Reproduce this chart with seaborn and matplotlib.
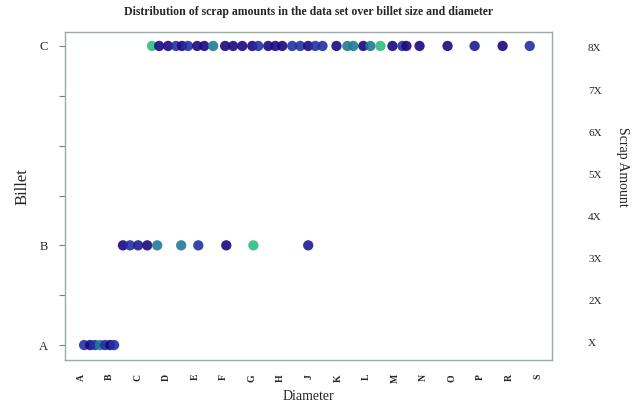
import numpy as np
import pandas as pd
import seaborn as sns
import matplotlib.pyplot as plt
from matplotlib.colors import LinearSegmentedColormap

# Diameter positions (tick index units), billet level and scrap amount per point
billet_a_diam = [0.11, 0.32, 0.49, 0.67, 0.84, 1.02, 1.16]
billet_a_scrap = [3, 1, 3, 5, 3, 1, 3]

billet_b_diam = [1.47, 1.72, 2.00, 2.32, 2.67, 3.51, 4.11, 5.09, 6.04, 7.96]
billet_b_scrap = [1, 3, 2, 1, 5, 5, 3, 1, 7, 2]

billet_c_diam = [2.49, 2.74, 3.05, 3.33, 3.54, 3.75, 4.07, 4.32, 4.63, 5.05,
                 5.33, 5.65, 6.00, 6.21, 6.56, 6.81, 7.05, 7.40, 7.68, 7.96,
                 8.21, 8.46, 8.95, 9.33, 9.54, 9.89, 10.14, 10.49, 10.91, 11.26,
                 11.40, 11.86, 12.84, 13.79, 14.77, 15.72]
billet_c_scrap = [7, 1, 1, 3, 1, 3, 1, 1, 5, 1,
                  1, 1, 1, 3, 1, 1, 1, 3, 3, 1,
                  3, 3, 1, 5, 5, 1, 5, 7, 1, 3,
                  1, 1, 1, 2, 1, 3]

billet_levels = {'A': 0, 'B': 2, 'C': 6}
diameter_labels = ['A', 'B', 'C', 'D', 'E', 'F', 'G', 'H', 'J', 'K',
                   'L', 'M', 'N', 'O', 'P', 'R', 'S']
scrap_labels = ['X', '2X', '3X', '4X', '5X', '6X', '7X', '8X']

df = pd.concat([
    pd.DataFrame({'diameter': billet_a_diam, 'billet': billet_levels['A'], 'scrap': billet_a_scrap}),
    pd.DataFrame({'diameter': billet_b_diam, 'billet': billet_levels['B'], 'scrap': billet_b_scrap}),
    pd.DataFrame({'diameter': billet_c_diam, 'billet': billet_levels['C'], 'scrap': billet_c_scrap}),
])

sns.set_theme(style='white')
plt.rcParams['font.family'] = ['Liberation Serif', 'DejaVu Serif']

cmap = LinearSegmentedColormap.from_list(
    'scrap', ['#1c0880', '#2438a8', '#1f958c', '#3ad87a'])

fig = plt.figure(figsize=(6.4, 4.09), dpi=100)
ax = fig.add_axes([65 / 640, 1 - 360 / 409, (552 - 65) / 640, (360 - 32) / 409])

sns.scatterplot(data=df, x='diameter', y='billet', hue='scrap', palette=cmap,
                hue_norm=(1, 8), s=55, alpha=0.9, linewidth=0, legend=False, ax=ax)

ax.set_xlim(-0.56, 16.5)
ax.set_ylim(-0.3, 6.28)

ax.set_xticks(range(len(diameter_labels)))
ax.set_xticklabels(diameter_labels, rotation=90, fontsize=7, fontweight='bold')
ax.set_yticks(range(7))
ax.set_yticklabels(['A', '', 'B', '', '', '', 'C'], fontsize=9)
ax.tick_params(axis='y', left=True, length=4, width=0.8, color='#6f7f7a', pad=8)
ax.tick_params(axis='x', bottom=False, pad=4)

for sp in ax.spines.values():
    sp.set_color('#9aaba6')
    sp.set_linewidth(1.0)

ax.set_xlabel('Diameter', fontsize=10, labelpad=5)
ax.set_ylabel('Billet', fontsize=12)
ax.yaxis.set_label_coords(-0.07, 0.53)
ax.set_title('Distribution of scrap amounts in the data set over billet size and diameter',
             fontsize=8.5, fontweight='bold', pad=12)

# right-hand scrap scale
ax2 = ax.twinx()
ax2.set_ylim(1 - 17 * 7 / 295, 8 + 16 * 7 / 295)
ax2.set_yticks(range(1, 9))
ax2.set_yticklabels(scrap_labels, fontsize=8)
ax2.tick_params(axis='y', right=False, pad=20)
for sp in ax2.spines.values():
    sp.set_visible(False)
fig.text(622 / 640, 1 - 167 / 409, 'Scrap Amount', rotation=270,
         ha='center', va='center', fontsize=10)

fig.savefig('out.png', dpi=100)
